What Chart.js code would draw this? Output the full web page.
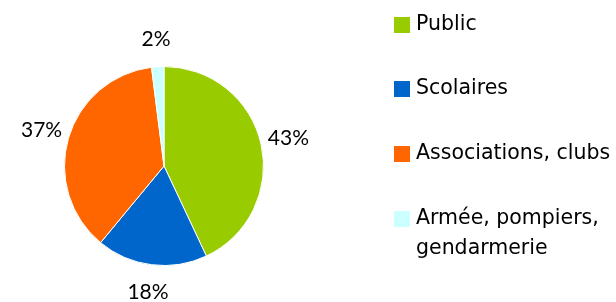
<!DOCTYPE html>
<html>
<head>
<meta charset="utf-8">
<script src="https://cdn.jsdelivr.net/npm/chart.js@4/dist/chart.umd.min.js"></script>
<style>
  html, body { margin: 0; padding: 0; background: #fff; }
  #wrap { position: relative; width: 616px; height: 302px; }
  #c { position: absolute; left: 0; top: 0; }
  .leg { position: absolute; left: 394px; font-family: "DejaVu Sans", sans-serif; font-size: 20.5px; color: #000; line-height: 30px; }
  .leg .sw { position: absolute; left: 0; width: 16px; height: 16px; }
  .leg .tx { position: absolute; left: 22px; white-space: nowrap; }
</style>
</head>
<body>
<div id="wrap">
  <canvas id="c" width="616" height="302"></canvas>
</div>
<script>
const categories = ["Public", "Scolaires", "Associations, clubs", "Armée, pompiers, gendarmerie"];
const legendLines = [["Public"], ["Scolaires"], ["Associations, clubs"], ["Armée, pompiers,", "gendarmerie"]];
const shares = [43, 18, 37, 2];
const colors = ["#99CC00", "#0066CC", "#FF6600", "#CCFFFF"];

const FONT = "Lato, sans-serif";

const labelPlugin = {
  id: "outLabels",
  afterDatasetsDraw(chart) {
    const ctx = chart.ctx;
    const meta = chart.getDatasetMeta(0);
    ctx.save();
    ctx.font = "21px " + FONT;
    ctx.fillStyle = "#000";
    ctx.textAlign = "center";
    ctx.textBaseline = "middle";
    meta.data.forEach((arc, i) => {
      const mid = (arc.startAngle + arc.endAngle) / 2;
      const r = arc.outerRadius + 28;
      const x = arc.x + Math.cos(mid) * r;
      const y = arc.y + Math.sin(mid) * r;
      ctx.fillText(shares[i] + "%", x, y);
    });
    ctx.restore();
  }
};

new Chart(document.getElementById("c"), {
  type: "pie",
  data: {
    labels: categories,
    datasets: [{
      data: shares,
      backgroundColor: colors,
      borderColor: "#ffffff",
      borderWidth: 1
    }]
  },
  options: {
    responsive: false,
    animation: false,
    layout: { padding: { left: 64, right: 352, top: 66, bottom: 36 } },
    plugins: { legend: { display: false }, tooltip: { enabled: false } }
  },
  plugins: [labelPlugin]
});

// HTML legend built from the arrays
const legTops = [17, 81, 146, 211];
const wrap = document.getElementById("wrap");
legendLines.forEach((lines, i) => {
  const d = document.createElement("div");
  d.className = "leg";
  d.style.top = legTops[i] + "px";
  const sw = document.createElement("div");
  sw.className = "sw";
  sw.style.background = colors[i];
  sw.style.top = "0px";
  d.appendChild(sw);
  const tx = document.createElement("div");
  tx.className = "tx";
  tx.style.top = "-9px";
  tx.innerHTML = lines.join("<br>");
  d.appendChild(tx);
  wrap.appendChild(d);
});
</script>
</body>
</html>
